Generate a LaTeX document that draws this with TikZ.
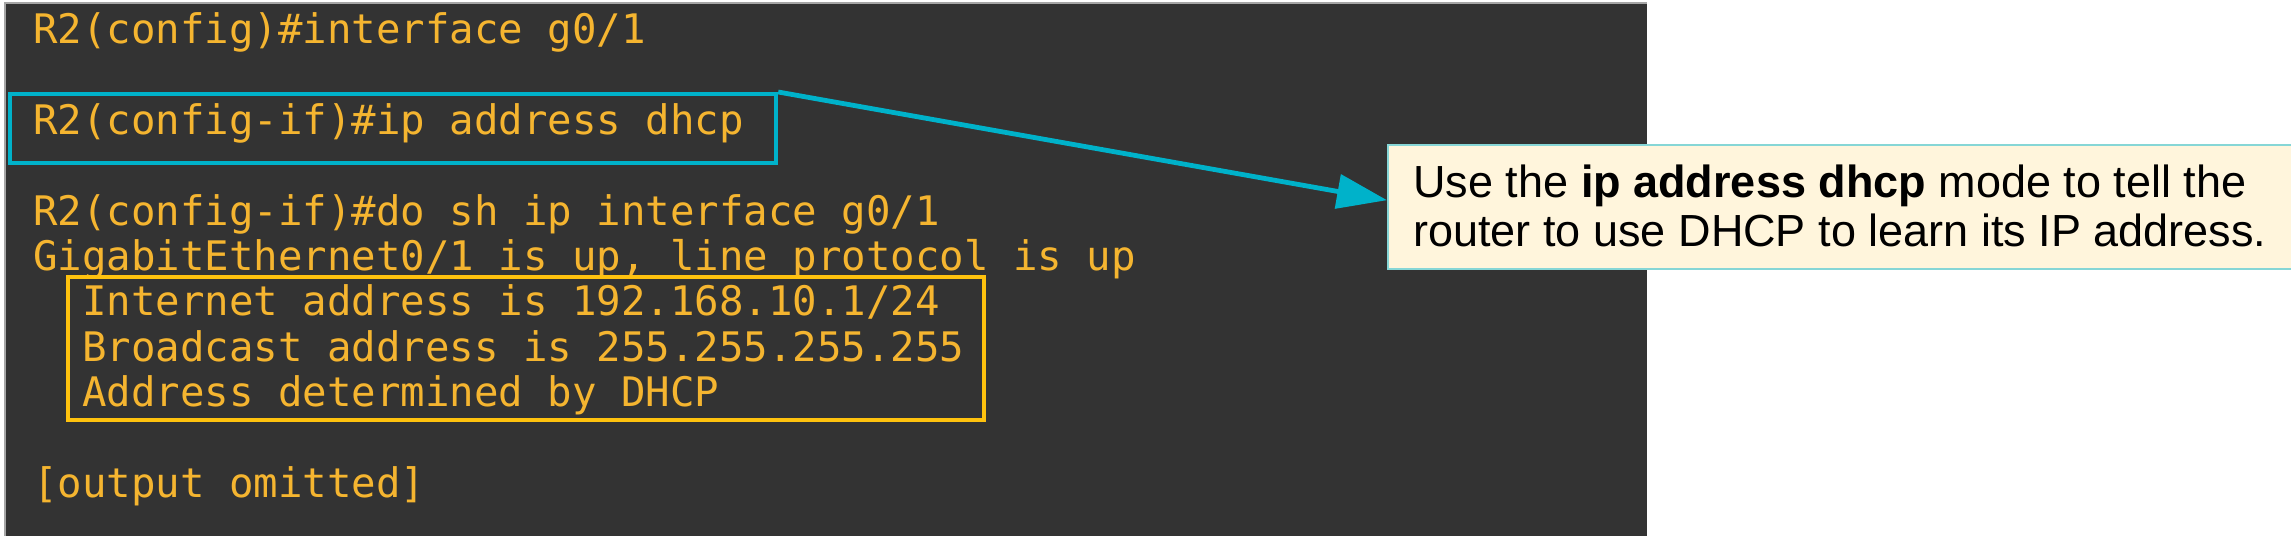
\documentclass[tikz,border=0pt]{standalone}
\usepackage{fontspec}
\setmainfont{Liberation Sans}
\newfontfamily\termfont{DejaVu Sans Mono}
\usetikzlibrary{arrows.meta}
\definecolor{panelgray}{HTML}{333333}
\definecolor{termorange}{HTML}{F5B530}
\definecolor{boxyellow}{HTML}{FFC20E}
\definecolor{hintcyan}{HTML}{00B2CA}
\definecolor{notecream}{HTML}{FFF5DC}
\definecolor{noteedge}{HTML}{86D6D6}
\begin{document}
\begin{tikzpicture}[x=0.5pt,y=-0.5pt,
    term/.style={anchor=base west,inner sep=0,text=termorange,font=\termfont\fontsize{20.35}{22}\selectfont},
    notetext/.style={anchor=base west,inner sep=0,font=\fontsize{22.5}{24}\selectfont},
    framebox/.style={anchor=north west,inner sep=0,line width=2.1pt}]
    \useasboundingbox (0,0) rectangle (2291,536);
    %Terminal
    \fill[panelgray] (5,3) rectangle (1647,536);
    \draw[gray!70,line width=0.6pt] (5,536) -- (5,3) -- (1647,3);
    \node[term] (cfgint) at (33,43) {R2(config)\#interface g0/1};
    \node[term] (cfgdhcp) at (33,134) {R2(config-if)\#ip address dhcp};
    \node[term] (showint) at (33,225) {R2(config-if)\#do sh ip interface g0/1};
    \node[term] (gistate) at (33,270) {GigabitEthernet0/1 is up, line protocol is up};
    \node[term] (inetaddr) at (82,315) {Internet address is 192.168.10.1/24};
    \node[term] (bcastaddr) at (82,361) {Broadcast address is 255.255.255.255};
    \node[term] (dhcpaddr) at (82,406) {Address determined by DHCP};
    \node[term] (omitted) at (33,497) {[output omitted]};
    %Highlights
    \node[framebox,draw=hintcyan,minimum width=383pt,minimum height=34.5pt] (dhcpbox) at (8,92) {};
    \node[framebox,draw=boxyellow,minimum width=458pt,minimum height=71.5pt] (addrbox) at (66,275) {};
    %Note
    \node[anchor=north west,inner sep=0,draw=noteedge,fill=notecream,line width=1.2pt,minimum width=452pt,minimum height=62pt] (note) at (1387,144) {};
    \node[notetext] (noteA) at (1413,197) {Use the \textbf{ip address dhcp} mode to tell the};
    \node[notetext] (noteB) at (1413,246) {router to use DHCP to learn its IP address.};
    \draw[hintcyan,line width=2.4pt,-{Triangle[length=25pt,width=17pt]}] (dhcpbox.north east) -- ([yshift=3.5pt]note.west);
\end{tikzpicture}
\end{document}
